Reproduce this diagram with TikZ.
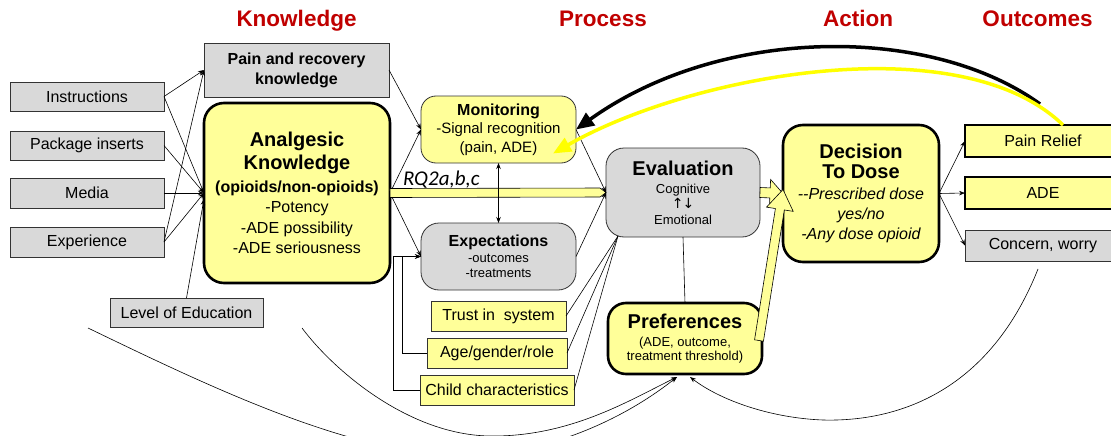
\documentclass[tikz,border=0pt]{standalone}
\usepackage{fontspec}
\setmainfont{Liberation Sans}
\newfontfamily\rqfont{Carlito}
\newfontfamily\arrowfont{DejaVu Sans}
\usetikzlibrary{arrows.meta,calc}
\definecolor{gfill}{RGB}{217,217,217}
\definecolor{yfill}{RGB}{255,255,153}
\definecolor{hred}{RGB}{192,0,0}
\definecolor{ybright}{RGB}{255,255,0}
\newcommand\fsz[2]{\fontsize{#1}{#2}\selectfont}
\newcommand\blockarrow[5]{%
  \coordinate (baS) at (#1);
  \coordinate (baT) at (#2);
  \coordinate (baH) at ($(baT)!#4!(baS)$);
  \draw[barrow] ($(baS)!#3!90:(baT)$) -- ($(baH)!#3!90:(baT)$) -- ($(baH)!#5!90:(baT)$) -- (baT) -- ($(baH)!#5!-90:(baT)$) -- ($(baH)!#3!-90:(baT)$) -- ($(baS)!#3!-90:(baT)$) -- cycle;
}
\begin{document}
\begin{tikzpicture}[x=1pt,y=-1pt,
  every node/.style={inner sep=0pt, outer sep=0pt},
  thinbox/.style={draw=black!80, line width=0.8pt, font=\fsz{16}{19}},
  gbox/.style={thinbox, fill=gfill},
  ybox/.style={thinbox, fill=yfill},
  thickbox/.style={draw=black, line width=2.6pt, fill=yfill},
  hdr/.style={text=hred, font=\bfseries\fsz{22.5}{26}, anchor=base},
  ln/.style={draw=black, line width=0.6pt},
  arr/.style={ln, -{Stealth[length=6pt,width=4.5pt]}},
  darr/.style={ln, {Stealth[length=6pt,width=4.5pt]}-{Stealth[length=6pt,width=4.5pt]}},
  barrow/.style={draw=black, line width=0.6pt, fill=yfill},
  bigarr/.style={line width=3.5pt, -{Triangle[length=18pt,width=15pt]}}]
\useasboundingbox (0,0) rectangle (1111,436);
\clip (0,0) rectangle (1111,436);

% headers
\node[hdr] (hK) at (296.5,27) {Knowledge};
\node[hdr] (hP) at (603,27) {Process};
\node[hdr] (hA) at (858,27) {Action};
\node[hdr] (hO) at (1037.5,27) {Outcomes};

% left boxes
\node[gbox, minimum width=154pt, minimum height=29pt] (instr) at (87,96.5) {Instructions};
\node[gbox, minimum width=154pt, minimum height=29pt] (pkg) at (87,145.5) {Package inserts};
\node[gbox, minimum width=154pt, minimum height=30pt] (media) at (87,193) {Media};
\node[gbox, minimum width=154pt, minimum height=30pt] (exper) at (87,242) {Experience};
\node[gbox, minimum width=153pt, minimum height=29pt] (edu) at (186.5,312.5) {Level of Education};
\node[gbox, minimum width=185pt, minimum height=54pt, align=center, font=\bfseries\fsz{16}{20}] (pain) at (296.5,70) {Pain and recovery\\knowledge};

\node[thickbox, rounded corners=20pt, minimum width=186pt, minimum height=180pt, align=center, font=\fsz{16}{20.5}] (ak) at (297,193)
 {{\bfseries\fsz{20}{23}Analgesic}\\[2.5pt]{\bfseries\fsz{20}{23}Knowledge}\\[2.5pt]{\bfseries\fsz{16}{19}(opioids/non-opioids)}\\-Potency\\-ADE possibility\\-ADE seriousness};

% process
\node[ybox, rounded corners=15pt, minimum width=155pt, minimum height=67pt, align=center, font=\fsz{15}{18.5}] (mon) at (498.5,129.5)
 {{\bfseries\fsz{16}{19}Monitoring}\\-Signal recognition\\(pain, ADE)};
\node[gbox, rounded corners=18pt, minimum width=155pt, minimum height=67pt, align=center, font=\fsz{13}{15.5}] (exp) at (498.5,256.5)
 {{\bfseries\fsz{16}{19}Expectations}\\-outcomes\\-treatments};
\node[gbox, rounded corners=18pt, minimum width=154pt, minimum height=89pt, align=center, font=\fsz{13}{15.5}] (eval) at (683,192.5)
 {{\bfseries\fsz{20}{23}Evaluation}\\[2.5pt]Cognitive\\{\arrowfont\fsz{14}{15}↑\kern-1pt↓}\\Emotional};
\node[ybox, minimum width=135pt, minimum height=30pt] (trust) at (498.5,316) {Trust in~ system};
\node[ybox, minimum width=140pt, minimum height=30pt] (age) at (497,353) {Age/gender/role};
\node[ybox, minimum width=154pt, minimum height=30pt] (child) at (497,390) {Child characteristics};
\node[thickbox, rounded corners=18pt, minimum width=154pt, minimum height=71pt, align=center, font=\fsz{13}{14.5}] (pref) at (685,338.5)
 {{\bfseries\fsz{20}{23}Preferences}\\[3.5pt](ADE, outcome,\\treatment threshold)};

% action
\node[thickbox, rounded corners=20pt, minimum width=156pt, minimum height=137pt, align=center, font=\fsz{16}{20}] (dec) at (861,193.5)
 {{\bfseries\fsz{20}{23}Decision}\\[0pt]{\bfseries\fsz{20}{23}To Dose}\\[1pt]{\itshape -{}-Prescribed dose}\\{\itshape yes/no}\\{\itshape -Any dose opioid}};

% outcomes
\node[thickbox, line width=2.4pt, minimum width=156pt, minimum height=32pt, font=\fsz{16}{19}] (pr) at (1043,141) {Pain Relief};
\node[thickbox, line width=2.4pt, minimum width=156pt, minimum height=32pt, font=\fsz{16}{19}] (ade) at (1043,193) {ADE};
\node[gbox, minimum width=156pt, minimum height=31pt] (concern) at (1043,245.5) {Concern, worry};

% label
\node[anchor=base west, font=\rqfont\itshape\fsz{21}{24}] (rq) at (403,185) {RQ2a,b,c};

% left connectors
\draw[arr] (instr.east) -- (pain.west);
\draw[arr] (instr.east) -- (ak.west);
\draw[arr] (pkg.east) -- (ak.west);
\draw[arr] (media.east) -- (ak.west);
\draw[arr] (exper.east) -- (pain.west);
\draw[arr] (exper.east) -- (ak.west);
\draw[arr] (edu.north) -- ($(ak.west)+(0,6)$);

\draw[arr] (pain.east) -- (mon.west);
\draw[arr] (ak.east) -- (mon.west);
\draw[arr] (ak.east) -- (exp.west);
\blockarrow{ak.east}{eval.west}{4.5pt}{6pt}{4.5pt}

\draw[arr] (mon.east) -- (eval.west);
\draw[arr] (exp.east) -- (eval.west);
\draw[darr] (mon.south) -- (exp.north);

\coordinate (evfan) at ($(eval.south west)+(12,-1)$);
\draw[ln] (evfan) -- (trust.east);
\draw[ln] (evfan) -- (age.east);
\draw[ln] (evfan) -- (child.east);
\draw[ln] (eval.south) -- (pref.north);

\draw[arr] (age.west) -- ++(-25,0) |- (exp.west);
\draw[arr] (child.west) -- ++(-27,0) |- (exp.west);

\blockarrow{eval.east}{dec.west}{5pt}{13pt}{13.5pt}
\blockarrow{$(pref.east)+(-3,2)$}{$(dec.west)+(0,-4)$}{4.5pt}{20pt}{13.5pt}

\draw[arr] (dec.east) -- (pr.west);
\draw[arr] (dec.east) -- (ade.west);
\draw[arr] (dec.east) -- (concern.west);

% feedback curves
\draw[bigarr, black] ($(pr.north)+(-3,-21)$) .. controls (930,24) and (720,26) .. (mon.east);
\draw[bigarr, ybright] ($(pr.north)+(20,0)$) .. controls (960,25) and (690,75) .. ($(mon.east)+(-23,24)$);

% bottom curves
\coordinate (cA) at (88,328);
\coordinate (cB) at (302,328);
\coordinate (cC) at (1038,269);
\draw[arr] (cA) .. controls (200,382) and (330,445) .. (440,455) .. controls (520,462) and (610,430) .. ($(pref.south)+(-8,3)$);
\draw[arr] (cB) .. controls (335,372) and (410,435) .. (490,436) .. controls (570,437) and (630,400) .. ($(pref.south)+(-8,3)$);
\draw[arr] (cC) .. controls (990,390) and (900,422) .. (823,420) .. controls (770,418) and (720,400) .. ($(pref.south)+(5,3)$);
\end{tikzpicture}
\end{document}
